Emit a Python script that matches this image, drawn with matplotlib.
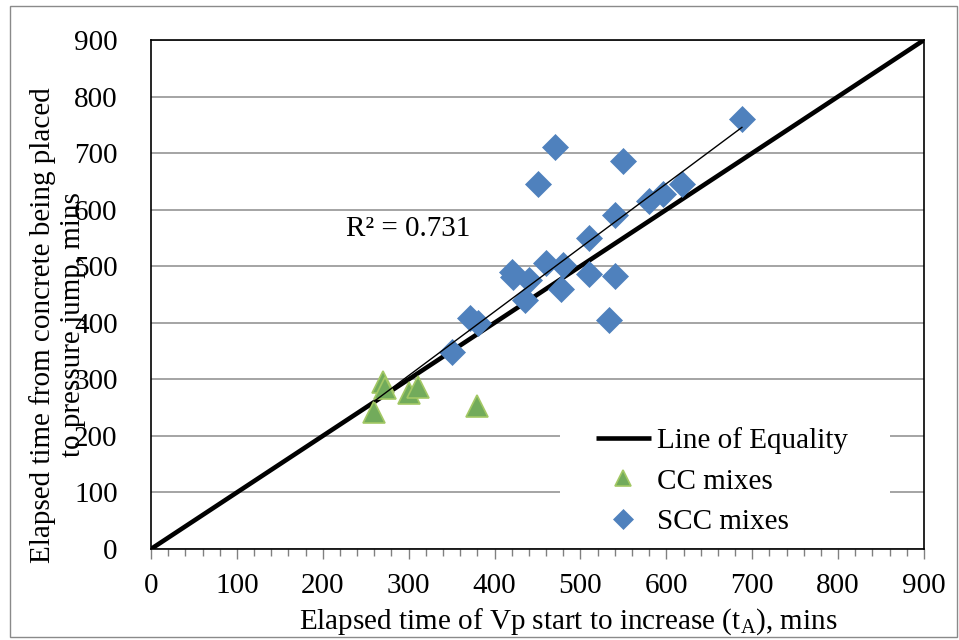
import numpy as np
import matplotlib
matplotlib.use("Agg")
import matplotlib.pyplot as plt
from matplotlib.patches import Rectangle
from matplotlib.ticker import MultipleLocator

plt.rcParams['font.family'] = ['Liberation Serif', 'DejaVu Serif']
plt.rcParams['mathtext.fontset'] = 'custom'
plt.rcParams['mathtext.rm'] = 'Liberation Serif'

# CC mixes (triangles)
cc_x = [270, 272, 300, 311, 260, 380]
cc_y = [295, 285, 275, 286, 243, 252]

# SCC mixes (diamonds)
scc_x = [688, 470, 550, 450, 618, 596, 580, 540, 510, 460, 480,
         420, 422, 440, 510, 540, 436, 477, 533, 371, 381, 350]
scc_y = [761, 711, 686, 646, 646, 628, 615, 591, 550, 505, 502,
         490, 481, 476, 486, 482, 441, 459, 405, 408, 399, 349]

equality = [0, 900]
ticks = list(range(0, 1000, 100))
r2_label = "R² = 0.731"

fs = 21

fig = plt.figure(figsize=(9.59, 6.4), dpi=100)
ax = fig.add_axes([151 / 959, 1 - 549 / 640, 773 / 959, 509 / 640])

# light grey frame round the whole chart
fig.patches.append(Rectangle((10 / 959, 3 / 640), 947 / 959, 631 / 640,
                             transform=fig.transFigure, fill=False,
                             edgecolor='#8a8a8a', lw=1.0))

ax.set_xlim(0, 900)
ax.set_ylim(0, 900)
ax.set_xticks(ticks)
ax.set_yticks(ticks)
ax.xaxis.set_minor_locator(MultipleLocator(20))
ax.yaxis.grid(True, color='#8c8c8c', lw=1.1)
ax.set_axisbelow(True)
for s in ax.spines.values():
    s.set_color('black')
    s.set_linewidth(1.2)
ax.tick_params(axis='x', which='major', direction='out', length=7, width=1.0,
               color='#808080', labelsize=fs, pad=10)
ax.tick_params(axis='x', which='minor', direction='out', length=5, width=1.0,
               color='#808080')
ax.tick_params(axis='y', which='major', length=0, labelsize=fs, pad=24)

ax.plot(equality, equality, color='black', lw=3.3, zorder=2,
        label='Line of Equality', solid_capstyle='butt')
ax.plot(cc_x, cc_y, ls='none', marker='^', ms=16, mfc='#72AB5B',
        mec='#A3C865', mew=1.2, zorder=3, label='CC mixes')
ax.plot(scc_x, scc_y, ls='none', marker='D', ms=13, mfc='#4F81BD',
        mec='#4F81BD', mew=0.5, zorder=3, label='SCC mixes')

# linear trendline over all points
all_x = np.array(cc_x + scc_x, dtype=float)
all_y = np.array(cc_y + scc_y, dtype=float)
k, b = np.polyfit(all_x, all_y, 1)
tx = np.array([all_x.min(), all_x.max()])
ax.plot(tx, k * tx + b, color='black', lw=1.0, zorder=4)
ax.text(299, 566, r2_label, fontsize=fs, ha='center', va='center')

# white box behind the legend
ax.add_patch(Rectangle((0.529, 0.004), 0.427, 0.25, transform=ax.transAxes,
                       facecolor='white', edgecolor='none', zorder=1))
leg = ax.legend(loc='upper left', bbox_to_anchor=(0.56, 0.262),
                frameon=False, fontsize=fs, markerscale=0.75,
                handlelength=1.9, handletextpad=0.2, labelspacing=0.48,
                borderaxespad=0)
leg.set_zorder(5)

ax.set_xlabel("Elapsed time of Vp start to increase (t$_{\\mathrm{A}}$), mins",
              fontsize=fs)
ax.xaxis.set_label_coords((568 - 151) / 773, -(622 - 549) / 509)
ax.xaxis.label.set_va('center')
fig.text(58 / 959, 1 - 325 / 640,
         "Elapsed time from concrete being placed\nto pressure jump, mins",
         rotation=90, ha='center', va='center', fontsize=fs, linespacing=1.2)

fig.savefig("out.png", dpi=100)
